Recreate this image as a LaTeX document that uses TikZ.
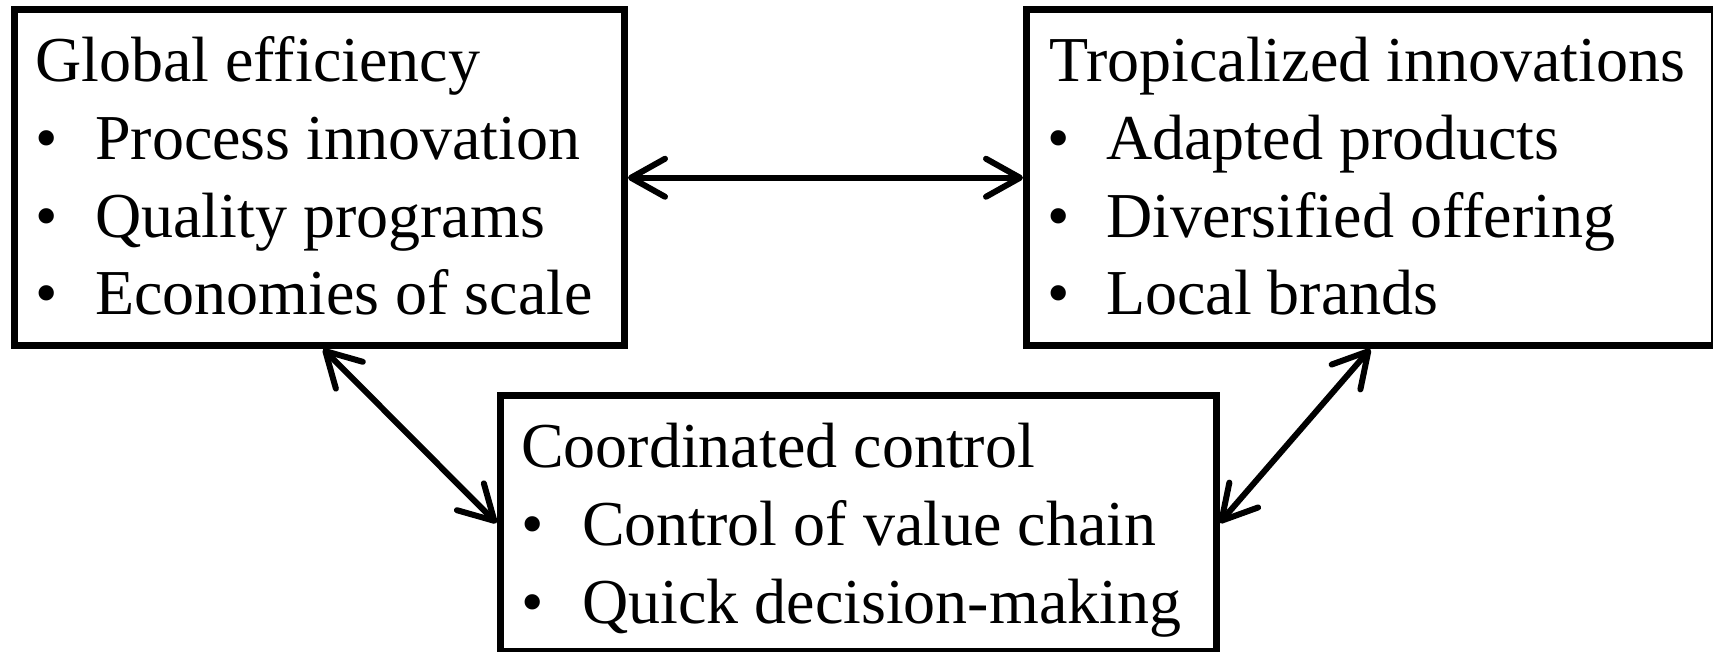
\documentclass[tikz,border=0pt]{standalone}
\usepackage{fontspec}
\setmainfont{Liberation Serif}
\usetikzlibrary{arrows.meta}
\begin{document}
\begin{tikzpicture}[x=1pt,y=-1pt,
  box/.style={draw=black, line width=7pt, fill=white, inner sep=0pt, rectangle},
  txt/.style={anchor=base west, inner sep=0pt, font=\fontsize{64}{78}\selectfont},
  link/.style={line width=6pt, line cap=round,
    {Straight Barb[length=34pt,width=38pt,round]}-{Straight Barb[length=34pt,width=38pt,round]}}]
\useasboundingbox[fill=white] (0,0) rectangle (1713,652);
% boxes
\node[box, minimum width=610.5pt, minimum height=335.5pt] (L) at (319.25,177.75) {};
\node[box, minimum width=687.5pt, minimum height=335.5pt] (R) at (1370.25,177.75) {};
\node[box, minimum width=716pt, minimum height=256pt] (B) at (858,523) {};
% left text
\node[txt] (l0) at (35,82) {Global efficiency};
\node[txt] (lb1) at (35,160) {•};
\node[txt] (l1) at (95,160) {Process innovation};
\node[txt] (lb2) at (35,238) {•};
\node[txt] (l2) at (95,238) {Quality programs};
\node[txt] (lb3) at (35,315) {•};
\node[txt] (l3) at (95,315) {Economies of scale};
% right text
\node[txt] (r0) at (1049,82) {Tropicalized innovations};
\node[txt] (rb1) at (1047,160) {•};
\node[txt] (r1) at (1106,160) {Adapted products};
\node[txt] (rb2) at (1047,238) {•};
\node[txt] (r2) at (1106,238) {Diversified offering};
\node[txt] (rb3) at (1047,315) {•};
\node[txt] (r3) at (1106,315) {Local brands};
% bottom text
\node[txt] (b0) at (521,467) {Coordinated control};
\node[txt] (bb1) at (521,545) {•};
\node[txt] (b1) at (582,545) {Control of value chain};
\node[txt] (bb2) at (521,623) {•};
\node[txt] (b2) at (582,623) {Quick decision-making};
% connectors
\draw[link] (L.east) -- (R.west);
\draw[link] ([xshift=4pt]L.south) -- (B.west);
\draw[link] (R.south) -- (B.east);
\end{tikzpicture}
\end{document}
